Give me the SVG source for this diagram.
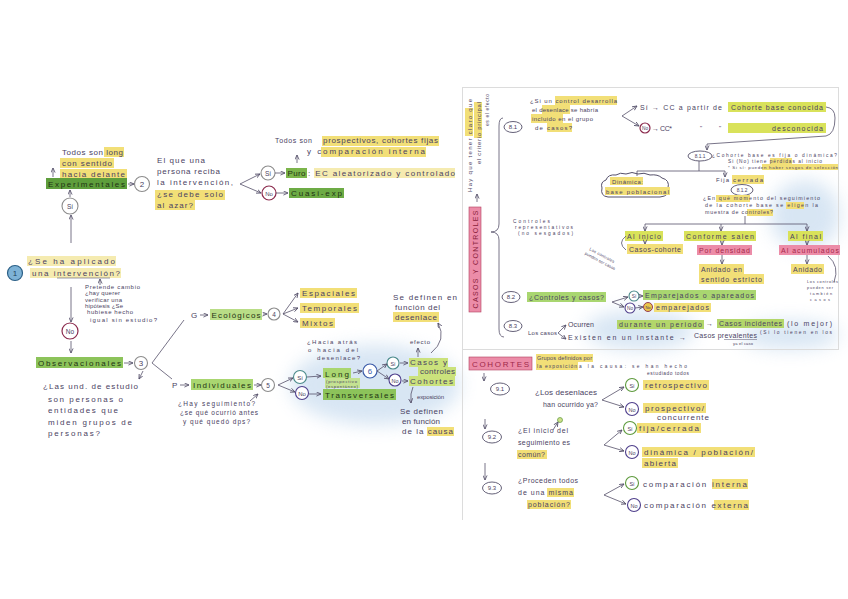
<svg xmlns="http://www.w3.org/2000/svg" width="848" height="599" viewBox="0 0 848 599">
<defs>
<style>
.t{font-family:"Liberation Sans",Arial,sans-serif;font-size:8px;fill:#4a4262}
.s{font-size:6px}
.xs{font-size:4.8px}
.m{font-size:7px}
.c{text-anchor:middle}
.dk{fill:#1f3314}
.ln{fill:none;stroke:#55506a;stroke-width:0.8}
.a{marker-end:url(#ah)}
.hy{fill:#f2df77}
.hf{fill:#f5ebb0}
.hl{fill:#d9e25a}
.hd{fill:#5e9e3c}
.hp{fill:#ec8ca8}
.cs{fill:#fff;stroke:#8c8c8c;stroke-width:1.1}
.cn{fill:#fff;stroke:#8b2a4d;stroke-width:1.2}
.cg{fill:#fff;stroke:#5d9a3c;stroke-width:1.1}
.cp{fill:#fff;stroke:#4f3f8c;stroke-width:1.1}
.ct{fill:#fff;stroke:#4a8a8a;stroke-width:1.1}
.ov{fill:#fff;stroke:#55506a;stroke-width:0.9}
</style>
<marker id="ah" viewBox="0 0 6 6" refX="5.5" refY="3" markerWidth="5" markerHeight="5" orient="auto" markerUnits="userSpaceOnUse"><path d="M0,0.5 L5.5,3 L0,5.5" fill="none" stroke="#55506a" stroke-width="1"/></marker>
<filter id="blur" x="-50%" y="-50%" width="200%" height="200%"><feGaussianBlur stdDeviation="9"/></filter>
</defs>
<rect width="848" height="599" fill="#fff"/>

<g id="washes" filter="url(#blur)" fill="#a9c8e6" opacity="0.45">
<ellipse cx="375" cy="385" rx="85" ry="40"/>
<ellipse cx="640" cy="330" rx="55" ry="20"/>
<ellipse cx="805" cy="215" rx="35" ry="35"/>
<ellipse cx="790" cy="335" rx="50" ry="14"/>
</g>

<g id="frames" fill="none" stroke="#dcdcdc" stroke-width="1">
<rect x="462.5" y="87.5" width="376" height="262"/>
<line x1="462.5" y1="350" x2="462.5" y2="520"/>
</g>

<!-- ===== LEFT PANEL ===== -->
<g id="todos-long">
<rect class="hy" x="104" y="147" width="20" height="10"/>
<rect class="hy" x="60" y="158" width="54" height="10"/>
<rect class="hy" x="60" y="169" width="67" height="10"/>
<text class="t" x="62" y="155" textLength="61">Todos son long</text>
<text class="t" x="62" y="166" textLength="50">con sentido</text>
<text class="t" x="62" y="177" textLength="63">hacia delante</text>
</g>
<g id="experimentales">
<rect class="hd" x="46" y="178" width="81" height="11"/>
<text class="t dk" x="48" y="186.5" textLength="77">Experimentales</text>
</g>
<g id="n2"><circle class="cs" cx="142" cy="184" r="7.5"/><text class="t c" x="142" y="187">2</text></g>
<g id="si-exp"><circle class="cs" cx="70" cy="206" r="8"/><text class="t c" x="70" y="209" style="font-size:6.5px">Sí</text></g>
<g id="q2">
<rect class="hy" x="155" y="190" width="70" height="10"/>
<rect class="hy" x="155" y="200" width="40" height="10"/>
<text class="t" x="157" y="163" textLength="48">El que una</text>
<text class="t" x="157" y="174" textLength="63">persona reciba</text>
<text class="t" x="157" y="185" textLength="76">la intervención,</text>
<text class="t" x="157" y="197" textLength="66">¿se debe solo</text>
<text class="t" x="157" y="208" textLength="36">al azar?</text>
</g>
<g id="si-puro"><circle class="cs" cx="268" cy="173" r="7"/><text class="t c" x="268" y="175.5" style="font-size:6.5px">Sí</text></g>
<g id="puro">
<rect fill="#7cb54b" x="286" y="168" width="21" height="10"/>
<text class="t dk" x="287.5" y="176" textLength="18">Puro</text>
<rect class="hf" x="314" y="168" width="141" height="10"/>
<text class="t" x="308" y="176" textLength="147">: EC aleatorizado y controlado</text>
</g>
<g id="no-cuasi"><circle class="cn" cx="269" cy="193" r="7"/><text class="t c" x="269" y="195.5" style="font-size:6px">No</text></g>
<g id="cuasi">
<rect fill="#6dab45" x="289" y="188" width="55" height="10"/>
<text class="t dk" x="291" y="196" textLength="51">Cuasi-exp</text>
</g>
<g id="todos-prosp">
<rect class="hy" x="322" y="136" width="117" height="10"/>
<rect class="hy" x="321" y="147" width="105" height="10"/>
<text class="t" x="275" y="143" textLength="37" style="font-size:7px">Todos son</text>
<text class="t" x="323" y="143" textLength="115">prospectivos, cohortes fijas</text>
<text class="t" x="307" y="154" textLength="118">y comparación interna</text>
</g>
<g id="n1"><circle cx="15" cy="273" r="7.5" fill="#7db2d6" stroke="#2b5f86" stroke-width="1.2"/><text class="t c" x="15" y="276" style="fill:#1d3f5c">1</text></g>
<g id="q1">
<rect class="hf" x="27" y="256" width="89" height="10"/>
<rect class="hf" x="30" y="268" width="91" height="10"/>
<text class="t" x="28" y="264" textLength="87">¿Se ha aplicado</text>
<text class="t" x="32" y="276" textLength="88">una intervención?</text>
<line x1="57" y1="278" x2="110" y2="278" stroke="#55506a" stroke-width="0.6"/>
</g>
<g id="nota1">
<text class="t s" x="85" y="289" textLength="55">Pretende cambio</text>
<text class="t s" x="85" y="295" textLength="35">¿hay querer</text>
<text class="t s" x="85" y="302" textLength="37">verificar una</text>
<text class="t s" x="85" y="308" textLength="38">hipótesis ¿Se</text>
<text class="t s" x="87" y="314" textLength="46">hubiese hecho</text>
<text class="t s" x="90" y="322" textLength="67">igual sin estudio?</text>
</g>
<g id="no-obs"><circle class="cn" cx="70" cy="331" r="8"/><text class="t c" x="70" y="333.5" style="font-size:6.5px">No</text></g>
<g id="observacionales">
<rect fill="#8cc35a" x="36" y="357" width="87" height="11"/>
<text class="t dk" x="38" y="365.5" textLength="83">Observacionales</text>
</g>
<g id="n3"><circle class="cs" cx="141" cy="363" r="6.5"/><text class="t c" x="141" y="366">3</text></g>
<g id="q3">
<text class="t" x="43" y="389" textLength="95">¿Las und. de estudio</text>
<text class="t" x="48" y="402" textLength="75">son personas o</text>
<text class="t" x="48" y="413" textLength="70">entidades que</text>
<text class="t" x="48" y="425" textLength="84">miden grupos de</text>
<text class="t" x="48" y="436" textLength="52">personas?</text>
</g>
<g id="g-eco">
<text class="t" x="191" y="318">G</text>
<rect fill="#b9dd86" x="210" y="309" width="52" height="11"/>
<text class="t dk" x="211.5" y="317.5" textLength="49">Ecológicos</text>
</g>
<g id="n4"><circle class="cs" cx="274" cy="314" r="6"/><text class="t c" x="274" y="317" style="font-size:6.5px">4</text></g>
<g id="eco-tipos">
<rect class="hy" x="300" y="288" width="57" height="10"/>
<rect class="hy" x="300" y="303" width="59" height="10"/>
<rect class="hy" x="300" y="318" width="35" height="10"/>
<text class="t" x="302" y="296" textLength="53">Espaciales</text>
<text class="t" x="302" y="311" textLength="55">Temporales</text>
<text class="t" x="302" y="326" textLength="31">Mixtos</text>
</g>
<g id="def-desenlace">
<rect class="hy" x="393" y="312" width="46" height="10"/>
<text class="t" x="393" y="300" textLength="64">Se definen en</text>
<text class="t" x="395" y="310" textLength="45">función del</text>
<text class="t" x="395" y="320" textLength="42">desenlace</text>
</g>
<g id="p-ind">
<text class="t" x="172" y="388">P</text>
<rect fill="#a9d670" x="191" y="379" width="62" height="11"/>
<text class="t dk" x="193" y="387.5" textLength="58">Individuales</text>
</g>
<g id="n5"><circle class="cs" cx="268" cy="385" r="6.5"/><text class="t c" x="268" y="388" style="font-size:6.5px">5</text></g>
<g id="q5">
<text class="t" x="178" y="406" textLength="77" style="font-size:6.5px">¿Hay seguimiento?</text>
<text class="t" x="180" y="415" textLength="78" style="font-size:6.5px">¿se qué ocurrió antes</text>
<text class="t" x="183" y="424" textLength="67" style="font-size:6.5px">y qué quedó dps?</text>
</g>
<g id="si-long"><circle class="ct" cx="300" cy="377" r="6.5"/><text class="t c" x="300" y="379.5" style="font-size:6px">Sí</text></g>
<g id="no-trans"><circle class="cp" cx="302" cy="393" r="6.5"/><text class="t c" x="302" y="395.5" style="font-size:6px">No</text></g>
<g id="long">
<rect fill="#a9d670" x="323" y="368" width="28" height="10"/>
<rect fill="#c4e292" x="325" y="378" width="35" height="10"/>
<text class="t dk" x="325" y="376.5" textLength="24">Long</text>
<text class="t xs" x="326" y="382.5" textLength="31" style="font-size:4.2px">(prospectivo</text>
<text class="t xs" x="326" y="387.5" textLength="32" style="font-size:4.2px">(espontáneo)</text>
</g>
<g id="transversales">
<rect fill="#8cc35a" x="323" y="389" width="73" height="11"/>
<text class="t dk" x="325" y="397.5" textLength="69">Transversales</text>
</g>
<g id="q6">
<text class="t s" x="307" y="344" textLength="50">¿Hacia atrás</text>
<text class="t s" x="308" y="352" textLength="50">o hacia del</text>
<text class="t s" x="317" y="360" textLength="43">desenlace?</text>
</g>
<g id="n6"><circle fill="#fff" stroke="#3a5aa8" stroke-width="1.2" cx="370" cy="371" r="7"/><text class="t c" x="370" y="374" style="fill:#3a5aa8">6</text></g>
<g id="si-cc"><circle class="ct" cx="393" cy="363" r="6"/><text class="t c" x="393" y="365.5" style="font-size:5.5px">Sí</text></g>
<g id="no-coh"><circle class="cp" cx="395" cy="380" r="6"/><text class="t c" x="395" y="382.5" style="font-size:5.5px">No</text></g>
<g id="casos-controles">
<rect fill="#cbe27c" x="409" y="358" width="39" height="9"/>
<rect fill="#cbe27c" x="418" y="367" width="38" height="9"/>
<text class="t" x="410" y="365" textLength="37">Casos y</text>
<text class="t" x="420" y="374" textLength="35">controles</text>
</g>
<g id="cohortes-l">
<rect fill="#cbe27c" x="409" y="376" width="46" height="10"/>
<text class="t" x="410" y="384" textLength="43">Cohortes</text>
</g>
<g id="efecto"><text class="t s" x="410" y="344" textLength="20">efecto</text></g>
<g id="exposicion"><text class="t s" x="417" y="399" textLength="27">exposición</text></g>
<g id="def-causa">
<rect class="hy" x="427" y="427" width="27" height="9"/>
<text class="t" x="400" y="414" textLength="43">Se definen</text>
<text class="t" x="402" y="424" textLength="38">en función</text>
<text class="t" x="402" y="434" textLength="51">de la causa</text>
</g>

<!-- ===== RIGHT TOP PANEL: CASOS Y CONTROLES ===== -->
<g id="nota-vertical">
<rect class="hy" x="465" y="108" width="8" height="28"/>
<rect class="hy" x="474" y="102" width="8" height="36"/>
<text class="t s" transform="translate(472,192) rotate(-90)" textLength="93">Hay que tener claro que</text>
<text class="t s" transform="translate(481,164) rotate(-90)" textLength="62">el criterio principal</text>
<text class="t s" transform="translate(489,126) rotate(-90)" textLength="32" style="font-size:5px">es el efecto</text>
</g>
<g id="casos-y-controles">
<rect class="hp" x="469" y="207" width="12" height="105" stroke="#b3405f" stroke-width="0.6"/>
<text class="t" transform="translate(478,259.5) rotate(-90)" text-anchor="middle" textLength="98" style="fill:#8a1d3b;font-size:7px">CASOS Y CONTROLES</text>
</g>
<g id="n81"><ellipse class="ov" cx="513" cy="127" rx="9" ry="5.5"/><text class="t c s" x="513" y="129">8.1</text></g>
<g id="q81">
<rect class="hy" x="555" y="96" width="62" height="9"/>
<rect class="hy" x="542" y="105" width="28" height="9"/>
<rect class="hy" x="531" y="114" width="32" height="9"/>
<rect class="hy" x="547" y="123" width="25" height="9"/>
<text class="t s" x="530" y="103" textLength="87">¿Si un control desarrolla</text>
<text class="t s" x="532" y="112" textLength="66">el desenlace se habría</text>
<text class="t s" x="532" y="121" textLength="61">incluido en el grupo</text>
<text class="t s" x="535" y="130" textLength="37">de casos?</text>
</g>
<g id="cc-conocida">
<text class="t m" x="640" y="110" textLength="82">Sí → CC a partir de</text>
<rect class="hl" x="728" y="102" width="98" height="10"/>
<text class="t m" x="731" y="109.5" textLength="92">Cohorte base conocida</text>
</g>
<g id="cc-desconocida">
<circle class="cn" cx="645" cy="128" r="5"/><text class="t c xs" x="645" y="129.8">No</text>
<text class="t m" x="652" y="130.5" textLength="20">→ CC*</text>
<text class="t s" x="700" y="130">"</text><text class="t s" x="719" y="130">"</text>
<rect class="hl" x="728" y="123" width="98" height="10"/>
<text class="t m" x="772" y="130.5" textLength="51">desconocida</text>
</g>
<g id="n811"><ellipse class="ov" cx="700" cy="156" rx="12" ry="5"/><text class="t c xs" x="700" y="158">8.1.1</text></g>
<g id="q811">
<rect class="hy" x="770" y="158" width="22" height="6"/>
<rect class="hy" x="762" y="164" width="76" height="6"/>
<text class="t xs" x="712" y="157" textLength="125">¿Cohorte base es fija o dinámica?</text>
<text class="t xs" x="728" y="163" textLength="94">Si (No) tiene pérdidas al inicio</text>
<text class="t xs" x="728" y="169" textLength="110" style="font-size:4.4px">* Si sí: pueden haber sesgos de selección</text>
</g>
<g id="dinamica">
<path d="M606,180 q2,-6 10,-5 q4,-3 10,-1 q6,-3 12,0 q6,-2 12,1 q8,-1 12,3 q8,2 6,10 q2,8 -8,9 l-52,0 q-8,-1 -6,-9 q-2,-6 4,-8 z" fill="#fff" stroke="#55506a" stroke-width="1"/>
<rect class="hy" x="610" y="177" width="33" height="8"/>
<rect class="hy" x="605" y="187" width="65" height="8"/>
<text class="t s" x="612" y="183.5" textLength="31">Dinámica:</text>
<text class="t s" x="606" y="193.5" textLength="63">base poblacional</text>
</g>
<g id="fija">
<rect class="hy" x="732" y="175" width="32" height="9"/>
<text class="t s" x="716" y="182" textLength="13">Fija</text>
<text class="t s" x="733" y="182" textLength="30">cerrada</text>
</g>
<g id="n812"><ellipse class="ov" cx="742" cy="190" rx="11" ry="5.5"/><text class="t c xs" x="742" y="192">8.1.2</text></g>
<g id="q812">
<rect class="hy" x="716" y="195" width="34" height="7"/>
<rect class="hy" x="786" y="202" width="18" height="7"/>
<rect class="hy" x="747" y="209" width="26" height="7"/>
<text class="t s" x="703" y="200" textLength="117" style="font-size:5.3px">¿En qué momento del seguimiento</text>
<text class="t s" x="705" y="207" textLength="113" style="font-size:5.3px">de la cohorte base se eligen la</text>
<text class="t s" x="705" y="214" textLength="68" style="font-size:5.3px">muestra de controles?</text>
</g>
<g id="al-inicio"><rect class="hl" x="625" y="231" width="38" height="10"/><text class="t m" x="627" y="238.5" textLength="34">Al inicio</text></g>
<g id="conforme"><rect class="hl" x="684" y="231" width="72" height="10"/><text class="t m" x="686" y="238.5" textLength="68">Conforme salen</text></g>
<g id="al-final"><rect class="hl" x="788" y="231" width="35" height="10"/><text class="t m" x="790" y="238.5" textLength="31">Al final</text></g>
<g id="casos-cohorte"><rect class="hy" x="627" y="244" width="56" height="10"/><text class="t m" x="629" y="251.5" textLength="52">Casos-cohorte</text></g>
<g id="por-densidad"><rect class="hp" x="697" y="245" width="55" height="10"/><text class="t m" x="699" y="252.5" textLength="51" style="fill:#a62a4b">Por densidad</text></g>
<g id="anidado-estricto">
<rect class="hy" x="699" y="264" width="45" height="10"/>
<rect class="hy" x="699" y="274" width="65" height="10"/>
<text class="t m" x="701" y="271.5" textLength="41">Anidado en</text>
<text class="t m" x="701" y="281.5" textLength="61">sentido estricto</text>
</g>
<g id="acumulados"><rect class="hp" x="779" y="245" width="61" height="10"/><text class="t m" x="781" y="252.5" textLength="58" style="fill:#a62a4b">Al acumulados</text></g>
<g id="anidado"><rect class="hy" x="791" y="264" width="33" height="10"/><text class="t m" x="793" y="271.5" textLength="29">Anidado</text></g>
<g id="nota-anidado">
<text class="t xs" x="807" y="283" textLength="31" style="font-size:3.8px">Los controles</text>
<text class="t xs" x="807" y="289" textLength="26" style="font-size:3.8px">pueden ser</text>
<text class="t xs" x="810" y="295" textLength="22" style="font-size:3.8px">también</text>
<text class="t xs" x="810" y="301" textLength="20" style="font-size:3.8px">casos</text>
</g>
<g id="representativos">
<text class="t xs" x="513" y="223" textLength="37">Controles</text>
<text class="t xs" x="515" y="229" textLength="58">representativos</text>
<text class="t xs" x="518" y="235" textLength="55">(no sesgados)</text>
</g>
<g id="nota-casos" transform="translate(589,250) rotate(28)">
<text class="t xs" x="0" y="0" textLength="28" style="font-size:4.2px">Los controles</text>
<text class="t xs" x="-2" y="6" textLength="34" style="font-size:4.2px">pueden ser casos</text>
</g>
<g id="n82"><ellipse class="ov" cx="511" cy="297" rx="9" ry="5.5"/><text class="t c s" x="511" y="299">8.2</text></g>
<g id="controles-casos"><rect fill="#a9d670" x="527" y="292" width="79" height="10"/><text class="t m" x="529" y="299.5" textLength="75">¿Controles y casos?</text></g>
<g id="si-emp"><circle class="ct" cx="634" cy="296" r="5"/><text class="t c xs" x="634" y="297.8">Sí</text></g>
<g id="no-emp"><circle class="cp" cx="630" cy="308" r="5"/><text class="t c xs" x="630" y="309.8">No</text></g>
<g id="emparejados"><rect fill="#a9d670" x="643" y="290" width="113" height="10"/><text class="t m" x="645" y="297.5" textLength="109">Emparejados o apareados</text></g>
<g id="no-emparejados">
<circle cx="648" cy="307" r="4.5" fill="#e9c64a" stroke="#8b2a4d" stroke-width="0.9"/><text class="t c xs" x="648" y="308.6" style="font-size:4px">No</text>
<rect class="hy" x="654" y="303" width="57" height="9"/>
<text class="t m" x="656" y="310" textLength="53">emparejados</text>
</g>
<g id="n83"><ellipse class="ov" cx="513" cy="326" rx="9" ry="5.5"/><text class="t c s" x="513" y="328">8.3</text></g>
<g id="los-casos"><text class="t s" x="528" y="335" textLength="29">Los casos</text></g>
<g id="incidentes">
<rect fill="#b3d66a" x="617" y="320" width="87" height="9"/>
<rect fill="#b3d66a" x="717" y="319" width="67" height="9"/>
<text class="t m" x="568" y="327" textLength="26">Ocurren</text>
<text class="t m" x="619" y="327" textLength="83">durante un periodo</text>
<text class="t m" x="706" y="326">→</text>
<text class="t m" x="719" y="326" textLength="63">Casos incidentes</text>
<text class="t m" x="787" y="326" textLength="45">(lo mejor)</text>
</g>
<g id="prevalentes">
<text class="t m" x="568" y="340" textLength="118">Existen en un instante →</text>
<text class="t m" x="694" y="338" textLength="63">Casos prevalentes</text>
<line x1="724" y1="339.5" x2="757" y2="339.5" stroke="#55506a" stroke-width="0.5"/>
<text class="t xs" x="760" y="334" textLength="72">(Si lo tienen en los</text>
<text class="t xs" x="733" y="345" textLength="20" style="font-size:4px">ya el caso</text>
</g>

<!-- ===== RIGHT BOTTOM PANEL: COHORTES ===== -->
<g id="cohortes">
<rect class="hp" x="469" y="357" width="63" height="13" stroke="#b3405f" stroke-width="0.6"/>
<text class="t" x="472" y="366.5" textLength="57" style="fill:#a02848">COHORTES</text>
</g>
<g id="def-cohortes">
<rect class="hy" x="536" y="354" width="57" height="8"/>
<rect class="hy" x="536" y="362" width="42" height="8"/>
<text class="t s" x="537" y="360" textLength="55" style="font-size:5.6px">Grupos definidos por</text>
<text class="t xs" x="537" y="368" textLength="40" style="font-size:5px">la exposición</text>
<text class="t xs" x="579" y="368" textLength="108">a la causa: se han hecho</text>
<text class="t xs" x="647" y="375" textLength="42">estudiado todos</text>
</g>
<g id="n91"><ellipse class="ov" cx="500" cy="389" rx="9.5" ry="6"/><text class="t c s" x="500" y="391">9.1</text></g>
<g id="q91">
<text class="t" x="535" y="395" textLength="62">¿Los desenlaces</text>
<text class="t m" x="543" y="407" textLength="55">han ocurrido ya?</text>
</g>
<g id="si-retro"><circle class="cg" cx="632" cy="385" r="6.5"/><text class="t c" x="632" y="387.5" style="font-size:5.5px">Sí</text></g>
<g id="retro"><rect class="hy" x="643" y="380" width="66" height="10"/><text class="t" x="645" y="388" textLength="62">retrospectivo</text></g>
<g id="no-prosp"><circle class="cp" cx="632" cy="409" r="6.5"/><text class="t c" x="632" y="411.5" style="font-size:5.5px">No</text></g>
<g id="prosp">
<rect class="hy" x="643" y="403" width="63" height="10"/>
<text class="t" x="645" y="411" textLength="59">prospectivo/</text>
<text class="t" x="657" y="420" textLength="52">concurrente</text>
</g>
<g id="n92"><ellipse class="ov" cx="492" cy="437" rx="9.5" ry="6"/><text class="t c s" x="492" y="439">9.2</text></g>
<g id="q92">
<rect class="hy" x="517" y="450" width="30" height="9"/>
<text class="t m" x="518" y="433" textLength="50">¿El inicio del</text>
<text class="t m" x="518" y="445" textLength="52">seguimiento es</text>
<text class="t m" x="518" y="457" textLength="27">común?</text>
</g>
<g id="marca-si"><circle cx="560" cy="420" r="2.5" fill="#cfe08a" stroke="#5d9a3c" stroke-width="0.7"/></g>
<g id="si-fija"><circle class="cg" cx="630" cy="428" r="6.5"/><text class="t c" x="630" y="430.5" style="font-size:5.5px">Sí</text></g>
<g id="fija-cerrada"><rect class="hy" x="637" y="423" width="64" height="10"/><text class="t" x="639" y="431" textLength="60">fija/cerrada</text></g>
<g id="no-din"><circle class="cp" cx="632" cy="452" r="6.5"/><text class="t c" x="632" y="454.5" style="font-size:5.5px">No</text></g>
<g id="dinamica-pob">
<rect class="hy" x="642" y="447" width="113" height="10"/>
<rect class="hy" x="642" y="458" width="36" height="10"/>
<text class="t" x="644" y="455" textLength="109">dinámica / población/</text>
<text class="t" x="644" y="466" textLength="32">abierta</text>
</g>
<g id="n93"><ellipse class="ov" cx="492" cy="488" rx="9.5" ry="6"/><text class="t c s" x="492" y="490">9.3</text></g>
<g id="q93">
<rect class="hy" x="547" y="488" width="27" height="9"/>
<rect class="hy" x="527" y="500" width="44" height="9"/>
<text class="t m" x="518" y="483" textLength="60">¿Proceden todos</text>
<text class="t m" x="518" y="495" textLength="55">de una misma</text>
<text class="t m" x="528" y="507" textLength="42">población?</text>
</g>
<g id="si-interna"><circle class="cg" cx="632" cy="483" r="6.5"/><text class="t c" x="632" y="485.5" style="font-size:5.5px">Sí</text></g>
<g id="interna"><rect class="hy" x="712" y="479" width="36" height="10"/><text class="t" x="643" y="487" textLength="104">comparación interna</text></g>
<g id="no-externa"><circle class="cp" cx="634" cy="505" r="6.5"/><text class="t c" x="634" y="507.5" style="font-size:5.5px">No</text></g>
<g id="externa"><rect class="hy" x="714" y="500" width="35" height="10"/><text class="t" x="644" y="508" textLength="104">comparación externa</text></g>

<!-- ===== CONNECTORS ===== -->
<g id="connectors" class="ln">
<path class="a" d="M53,177 L53,168"/>
<path class="a" d="M128,184 L134,184"/>
<path class="a" d="M70,197 L70,190"/>
<path class="a" d="M71,243 L71,215"/>
<path class="a" d="M240,184 L260,174"/>
<path class="a" d="M240,184 L261,193"/>
<path class="a" d="M275,173 L285,173"/>
<path class="a" d="M276,193 L288,193"/>
<path class="a" d="M297,163 L297,155"/>
<path class="a" d="M100,285 L100,279"/>
<path class="a" d="M71,287 L71,322"/>
<path class="a" d="M71,341 L71,353"/>
<path class="a" d="M124,363 L133,363"/>
<path d="M152,363 L184,320"/>
<path d="M152,363 L172,379"/>
<path class="a" d="M143,371 L139,379"/>
<path class="a" d="M200,315 L208,315"/>
<path class="a" d="M263,314 L267,314"/>
<path class="a" d="M283,314 L298,293"/>
<path class="a" d="M283,314 L298,308"/>
<path class="a" d="M283,314 L298,322"/>
<path class="a" d="M180,385 L189,385"/>
<path class="a" d="M254,385 L261,385"/>
<path class="a" d="M250,401 L258,394"/>
<path class="a" d="M278,385 L293,378"/>
<path class="a" d="M278,385 L295,392"/>
<path class="a" d="M307,377 L321,376"/>
<path class="a" d="M309,394 L321,394"/>
<path class="a" d="M353,373 L362,371"/>
<path class="a" d="M377,371 L387,364"/>
<path class="a" d="M377,371 L389,379"/>
<path class="a" d="M400,363 L408,363"/>
<path class="a" d="M402,381 L408,381"/>
<path class="a" d="M418,357 L418,348"/>
<path class="a" d="M431,353 Q447,340 438,323"/>
<path class="a" d="M413,387 Q410,393 411,403"/>
<path class="a" d="M477,202 L477,194"/>
<path d="M503,118 Q499,118 499,126 L499,224 Q499,232 491,232 Q499,232 499,240 L499,329 Q499,337 504,337"/>
<path class="a" d="M622,116 L637,106"/>
<path class="a" d="M622,116 L639,126"/>
<path class="a" d="M826,107 Q835,108 835,118 Q835,134 826,136 L707,144 L707,150"/>
<path d="M699,161 L699,171"/>
<path d="M637,171 L725,171"/>
<path d="M637,171 L637,176"/>
<path class="a" d="M725,171 L725,177"/>
<path d="M745,216 L745,224"/>
<path d="M645,224 L807,224"/>
<path class="a" d="M645,224 L645,231"/>
<path class="a" d="M721,224 L721,231"/>
<path class="a" d="M807,224 L807,231"/>
<path class="a" d="M645,241 L645,244"/>
<path class="a" d="M722,241 L722,245"/>
<path class="a" d="M722,255 L722,264"/>
<path class="a" d="M807,241 L807,245"/>
<path class="a" d="M807,255 L807,264"/>
<path d="M626,236 Q617,243 626,250"/>
<path d="M828,256 Q840,266 834,282"/>
<path class="a" d="M612,302 L628,297"/>
<path class="a" d="M612,302 L624,307"/>
<path class="a" d="M639,296 L643,296"/>
<path class="a" d="M635,308 L643,307"/>
<path class="a" d="M558,333 L566,325"/>
<path class="a" d="M558,333 L566,339"/>
<path class="a" d="M484,373 L484,381"/>
<path class="a" d="M485,419 L485,429"/>
<path class="a" d="M485,463 L485,480"/>
<path class="a" d="M602,400 L624,387"/>
<path class="a" d="M602,400 L624,407"/>
<path class="a" d="M604,445 L622,430"/>
<path class="a" d="M604,445 L624,451"/>
<path class="a" d="M604,495 L624,484"/>
<path class="a" d="M604,495 L626,504"/>
<path class="a" d="M553,430 L558,422"/>
</g>
</svg>
